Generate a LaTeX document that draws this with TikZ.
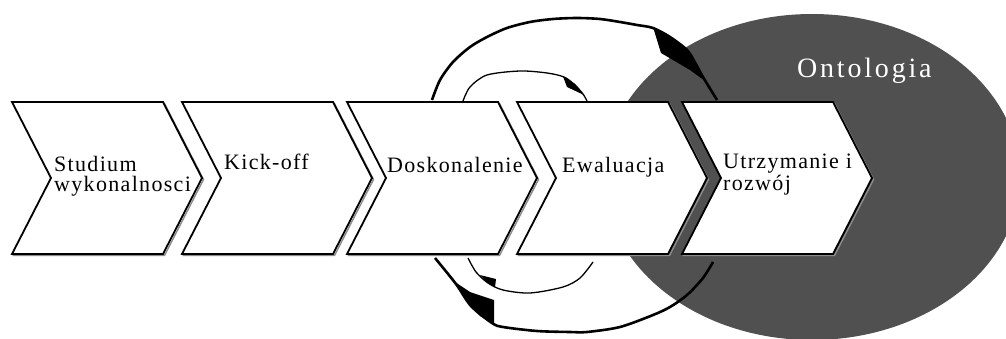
\documentclass[tikz,border=0pt]{standalone}
\usepackage{fontspec}
\setmainfont{Liberation Serif}
\newfontfamily\chevfont[LetterSpace=6]{Liberation Serif}
\newfontfamily\ontofont[LetterSpace=10]{Liberation Serif}
\definecolor{ontogray}{RGB}{80,80,80}
\begin{document}
\begin{tikzpicture}[x=1pt,y=1pt,
  chev/.style={draw=black, line width=1.8pt, fill=white, line join=miter},
  chevshadow/.style={draw=black!45, line width=1.4pt, line join=miter},
  lbl/.style={font=\chevfont\fontsize{22}{20}\selectfont, inner sep=0pt, align=left, anchor=base west},
  thickarc/.style={line width=2.6pt},
  thinarc/.style={line width=1.3pt},
  wedge/.style={fill=black}
]
\useasboundingbox (0,0) rectangle (1006,338);
\fill[white] (0,0) rectangle (1006,338);
\begin{scope}
\clip (0,0) rectangle (1006,338);
\fill[ontogray] (812,161) ellipse [x radius=208pt, y radius=163pt];
\end{scope}
\foreach \L in {12,182,347,517,682}{
  \draw[chevshadow] (\L+1.5,234.5) -- ++(151,0) -- ++(39,-76) -- ++(-39,-76) -- ++(-151,0) -- ++(39,76) -- cycle;
  \draw[chev] (\L,236) -- ++(151,0) -- ++(39,-76) -- ++(-39,-76) -- ++(-151,0) -- ++(39,76) -- cycle;
}
% two-line labels: base anchor is the baseline of the last line
\node[lbl] (t1) at (54,147) {Studium\\wykonalnosci};
\node[lbl] (t2) at (224,169) {Kick-off};
\node[lbl] (t3) at (387,166) {Doskonalenie};
\node[lbl] (t4) at (562,166) {Ewaluacja};
\node[lbl] (t5) at (723,148) {Utrzymanie i\\rozwój};
\node[font=\ontofont\fontsize{28}{28}\selectfont, text=white, inner sep=0pt, anchor=base west] (onto) at (797,260) {Ontologia};
\coordinate (TO1) at (432,238);
\coordinate (TO2) at (717,238);
\coordinate (TI1) at (463,237);
\coordinate (TI2) at (587,237);
\coordinate (BI1) at (593,76);
\coordinate (BI2) at (468,80);
\coordinate (BO1) at (713,76);
\coordinate (BO2) at (435,80);
\draw[thickarc] plot[smooth, tension=0.5] coordinates {(TO1) (440,258) (453,276) (470,291) (487,301) (507,310) (530,316) (553,319) (577,320) (600,319) (620,316) (637,313) (653,310) (670,301) (687,288) (695,275.5) (703,261) (TO2)};
\fill[wedge] (653,311) -- (670,302) -- (687,289) -- (695,276) -- (705,257) -- (690,268) -- (661,285) -- cycle;
\draw[thinarc] plot[smooth, tension=0.5] coordinates {(TI1) (470,251) (487,263) (520,267) (547,265) (564,261) (575,253) (583,244) (TI2)};
\fill[wedge] (563,261.5) -- (575,254) -- (584,243) -- (567,251) -- cycle;
\draw[thinarc] plot[smooth, tension=0.5] coordinates {(BI1) (580,60) (563,51) (530,45) (503,48) (488,55) (476,66) (BI2)};
\fill[wedge] (495,50.5) -- (488,54.5) -- (480,63) -- (496,59) -- cycle;
\draw[thickarc] plot[smooth, tension=0.5] coordinates {(BO1) (703,60) (687,43) (670,31) (653,23) (620,11) (587,6) (570,6) (537,7) (503,11) (492,15) (471,32) (456,54) (BO2)};
\fill[wedge] (494,14) -- (480,22) -- (471,31) -- (455,56) -- (470,46) -- (494,38) -- cycle;
\end{tikzpicture}
\end{document}
